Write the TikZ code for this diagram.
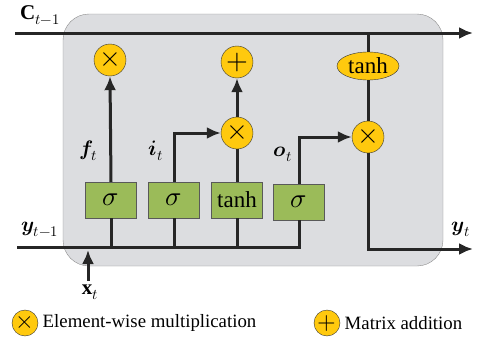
\documentclass[tikz,border=0pt]{standalone}
\usepackage{amsmath}
\usepackage{fontspec}
\usepackage{unicode-math}
\setmainfont{Liberation Serif}
\setmathfont{Latin Modern Math}
\usetikzlibrary{arrows,arrows.meta,positioning,shapes}
\definecolor{cellgray}{HTML}{DCDDE0}
\definecolor{opyellow}{HTML}{FFC90E}
\definecolor{gategreen}{HTML}{9BBB59}
\tikzset{% styles of the cell
	opcirc/.style={circle,draw=black!80,fill=opyellow,minimum size=32pt,inner sep=0pt,font=\fontsize{28}{28}\selectfont},
	legcirc/.style={opcirc,minimum size=26pt,font=\fontsize{24}{24}\selectfont},
	gatebox/.style={rectangle,draw=black!65,fill=gategreen,minimum width=51pt,minimum height=36pt,inner sep=0pt,font=\fontsize{27}{27}\selectfont},
	wire/.style={line width=3pt,draw=black!85},
	lbl/.style={font=\fontsize{21}{21}\selectfont}
}

\begin{document}
\begin{tikzpicture}[x=1pt,y=-1pt,>={Latex[length=14pt,width=12pt]}]
				\useasboundingbox (0,0) rectangle (483,343);
				\draw[rounded corners=26pt,fill=cellgray,draw=black!45] (63,14) rectangle (443,266);
				
				% operations
				\node[opcirc] (mulf) at (110,60) {$\times$};
				\node[opcirc] (add) at (237,62) {$+$};
				\node[opcirc] (muli) at (237,133) {$\times$};
				\node[opcirc] (mulo) at (368,137) {$\times$};
				\node[ellipse,draw=black!80,fill=opyellow,minimum width=62pt,minimum height=28pt,inner sep=0pt,font=\fontsize{23}{23}\selectfont] (tanhc) at (368,66) {tanh};
				
				% gates
				\node[gatebox] (gf) at (111,200) {$\sigma$};
				\node[gatebox] (gi) at (174,200) {$\sigma$};
				\node[gatebox,font=\fontsize{23}{23}\selectfont] (gc) at (237,200) {tanh};
				\node[gatebox] (go) at (299,202) {$\sigma$};
				
				\coordinate (cin) at (15,33);
				\coordinate (cout) at (473,33);
				\coordinate (yin) at (17,247);
				\coordinate (yout) at (473,249);
				\coordinate (xin) at (88,281);
				\coordinate (xend) at (88,250);
				
				\draw[wire,->] (cin) -- (cout);
				\draw[wire] (yin) -- (go.south |- yin) -- (go.south);
				\foreach \g in {gf,gi,gc}
					\draw[wire] (\g.south) -- (\g.south |- yin);
				\draw[wire,->] (xin) -- (xend);
				\draw[wire,->] (gf.north) -- (mulf.south);
				\draw[wire,->] (gi.north) |- (muli.west);
				\draw[wire] (gc.north) -- (muli.south);
				\draw[wire,->] (muli.north) -- (add.south);
				\draw[wire] (tanhc.north |- cin) -- (tanhc.north);
				\draw[wire] (tanhc.south) -- (mulo.north);
				\draw[wire,->] (go.north) |- (mulo.west);
				\draw[wire,->] (mulo.south) |- (yout);
				
				% labels
				\node[lbl] (lc) at (40,15) {$\mathbf{C}_{t-1}$};
				\node[lbl] (ly) at (40,229) {$\symbfit{y}_{t-1}$};
				\node[lbl] (lyt) at (461,229) {$\symbfit{y}_{t}$};
				\node[lbl] (lx) at (90,292) {$\mathbf{x}_{t}$};
				\node[lbl] (lf) at (88,151) {$\symbfit{f}_{t}$};
				\node[lbl] (li) at (156,151) {$\symbfit{i}_{t}$};
				\node[lbl] (lo) at (283,154) {$\symbfit{o}_{t}$};
				
				% legend
				\node[legcirc] (legm) at (25,323) {$\times$};
				\node[right=1pt of legm,font=\fontsize{18.8}{18.8}\selectfont] (legmt) {Element-wise multiplication};
				\node[legcirc] (lega) at (327,323) {$+$};
				\node[right=1pt of lega,font=\fontsize{18.8}{18.8}\selectfont] (legat) {Matrix addition};
\end{tikzpicture}
\end{document}
